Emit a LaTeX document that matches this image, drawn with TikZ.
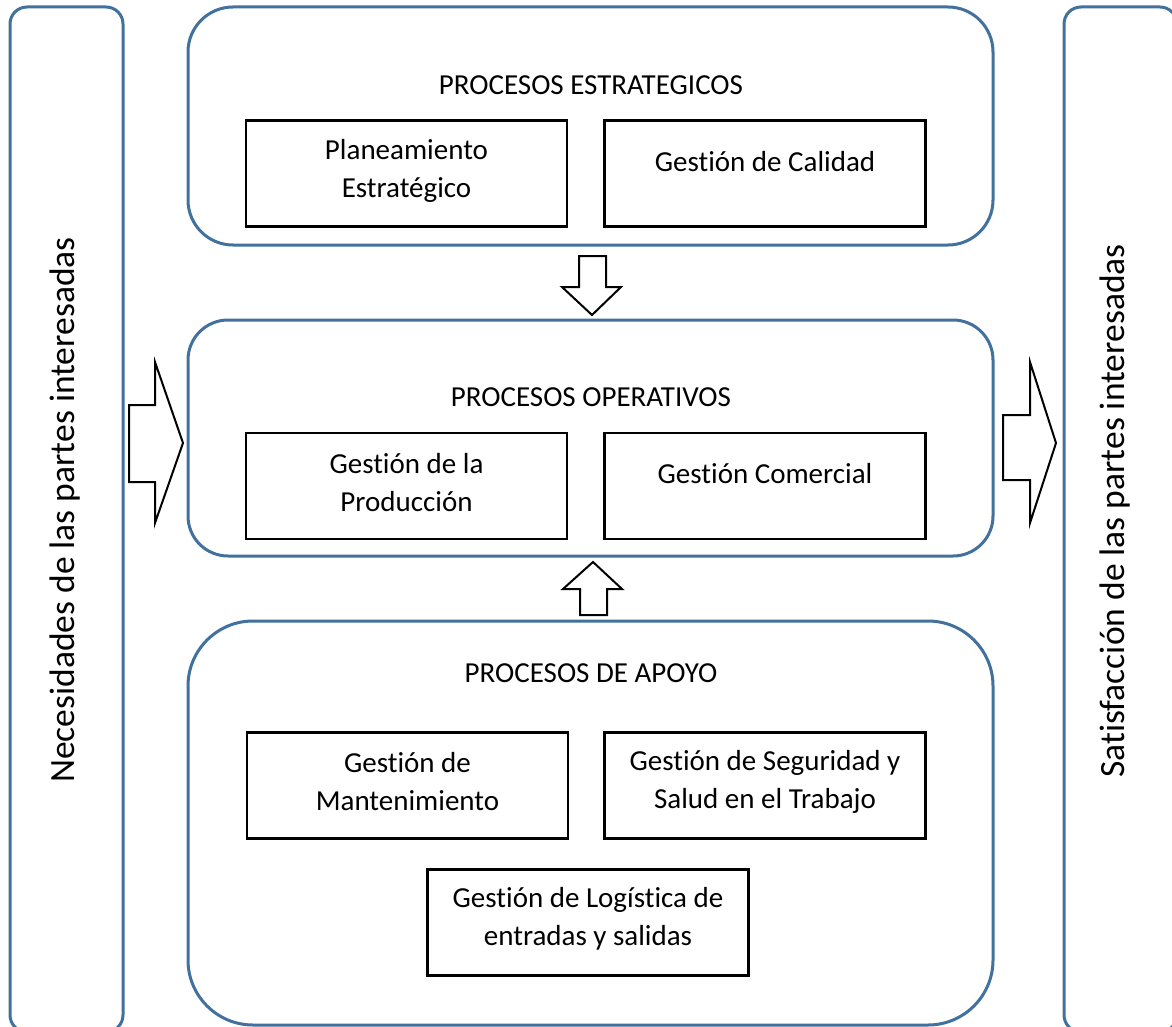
\documentclass[tikz,border=0pt]{standalone}
\usepackage{fontspec}
\setmainfont{Carlito}[Ligatures={NoCommon}, RawFeature={-liga;-dlig;-calt}]
\definecolor{boxblue}{HTML}{41719C}
\newcommand{\tIx}{t\kern0pt i}
\begin{document}
\begin{tikzpicture}[x=1pt,y=-1pt,
  sidebox/.style={draw=boxblue, line width=3pt, rounded corners=17pt, minimum width=113pt, minimum height=1025pt, inner sep=0pt},
  groupbox/.style={draw=boxblue, line width=3pt, minimum width=805pt, inner sep=0pt},
  procbox/.style={draw=black, line width=2.5pt, minimum width=321pt, minimum height=106pt, inner sep=0pt},
  lbl/.style={font=\fontsize{29}{38}\selectfont, align=center, inner sep=0pt},
  vlbl/.style={font=\fontsize{35.5}{40}\selectfont, rotate=90, inner sep=0pt},
  blockarrow/.style={draw=black, line width=2pt, fill=white, line join=miter}
]
\useasboundingbox (0,0) rectangle (1172,1027);
\fill[white] (0,0) rectangle (1172,1027);

% side boxes
\node[sidebox] (left) at (66.5,519.5) {};
\node[sidebox] (right) at (1120.5,519.5) {};
\node[vlbl] (lefttext) at (65,510) {Necesidades de las partes interesadas};
\node[vlbl] (righttext) at (1115,511) {Sa\tIx sfacción de las partes interesadas};

% group boxes
\node[groupbox, rounded corners=45pt, minimum height=238pt] (top) at (590.5,126) {};
\node[groupbox, rounded corners=40pt, minimum height=236pt] (mid) at (590.5,438) {};
\node[groupbox, rounded corners=65pt, minimum height=404pt] (bot) at (590.5,823) {};

\node[lbl] (toptitle) at (591,85) {PROCESOS ESTRATEGICOS};
\node[lbl] (midtitle) at (591,397) {PROCESOS OPERATIVOS};
\node[lbl] (bottitle) at (591,673) {PROCESOS DE APOYO};

% process boxes
\node[procbox] (plan) at (406.5,173.5) {};
\node[procbox] (cal) at (765,173.5) {};
\node[procbox] (prod) at (406.5,486) {};
\node[procbox] (com) at (765,486) {};
\node[procbox] (mant) at (407.5,785.5) {};
\node[procbox] (seg) at (765,785.5) {};
\node[procbox] (log) at (588,922.5) {};

\node[lbl] (plantext) at (406.5,171) {Planeamiento\\Estratégico};
\node[lbl] (caltext) at (765,162) {Ges\tIx ón de Calidad};
\node[lbl] (prodtext) at (406.5,483) {Ges\tIx ón de la\\Producción};
\node[lbl] (comtext) at (765,474) {Ges\tIx ón Comercial};
\node[lbl] (manttext) at (407.5,782) {Ges\tIx ón de\\Mantenimiento};
\node[lbl] (segtext) at (765,782) {Ges\tIx ón de Seguridad y\\Salud en el Trabajo};
\node[lbl] (logtext) at (588,919) {Ges\tIx ón de Logís\tIx ca de\\entradas y salidas};

% block arrows
\draw[blockarrow] (579,256) -- (606,256) -- (606,287) -- (621,287) -- (592,315) -- (562,287) -- (579,287) -- cycle;
\draw[blockarrow] (580,615) -- (607,615) -- (607,589) -- (622,589) -- (593,562) -- (563,589) -- (580,589) -- cycle;
\draw[blockarrow] (129,405) -- (155,405) -- (155,362) -- (183,443) -- (155,523) -- (155,482) -- (129,482) -- cycle;
\draw[blockarrow] (1003,415) -- (1030,415) -- (1030,362) -- (1056,443) -- (1030,523) -- (1030,480) -- (1003,480) -- cycle;
\end{tikzpicture}
\end{document}
